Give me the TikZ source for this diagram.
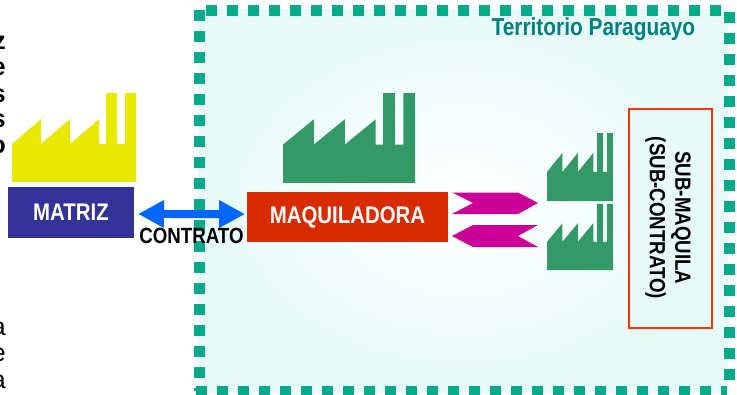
\documentclass[tikz,border=0pt]{standalone}
\usepackage{fontspec}
\setmainfont{Liberation Sans}
\newfontfamily\condfont[FakeStretch=0.85]{Liberation Sans}
\newfontfamily\cortefont{Liberation Sans}
\usetikzlibrary{arrows.meta}
\definecolor{terrfill}{HTML}{E6FAF8}
\definecolor{terrdash}{HTML}{05AA8B}
\definecolor{planta}{HTML}{339966}
\definecolor{amarillo}{HTML}{E8E800}
\definecolor{cintacol}{HTML}{CC0099}
\definecolor{matrizcol}{HTML}{333399}
\definecolor{maquilacol}{HTML}{D92B00}
\definecolor{subcol}{HTML}{FF3300}
\definecolor{contratocol}{HTML}{0066FF}
\tikzset{basic/.style={text=white,font=\condfont\bfseries\fontsize{18pt}{20pt}\selectfont,inner sep=0pt}}
\tikzset{territorio/.style={terrdash,line width=8.25pt,dash pattern=on 8.25pt off 7.5pt}}
\tikzset{cinta/.style={fill=cintacol,draw=none}}
\tikzset{etiqueta/.style={font=\condfont\bfseries\fontsize{16.5pt}{19pt}\selectfont,inner sep=0pt}}
\tikzset{corte/.style={anchor=east,inner sep=0pt,font=\cortefont\fontsize{19pt}{21pt}\selectfont}}
\tikzset{cortebf/.style={corte,font=\cortefont\bfseries\fontsize{19pt}{21pt}\selectfont}}
% factory outline, lower left corner given, then colour and the two scales
\newcommand{\fabrica}[5]{
  \fill[#1,shift={(#2,#3)},x=#4*0.75pt,y=#5*0.75pt] (0,0) -- (0,38) -- (29,63) -- (29,38) -- (58,63) -- (58,38)
    -- (87,63) -- (87,38) -- (94,38) -- (94,89) -- (105,89) -- (105,38) -- (113,38)
    -- (113,89) -- (124,89) -- (124,0) -- cycle;
}
\begin{document}
\begin{tikzpicture}[x=0.75pt,y=-0.75pt]
  \useasboundingbox (0,0) rectangle (737,395);

  % the territory: soft background first, then the dotted border
  \shade[inner color=white,outer color=terrfill] (199,10) rectangle (728,392);
  \draw[territorio] (199.5,10) -- (199.5,391);
  \draw[territorio] (206,10.5) -- (724,10.5);
  \draw[territorio] (729,12) -- (729,386);
  \draw[territorio] (196,391) -- (727,391);
  \node (terr_label) [anchor=east,text=teal,etiqueta,font=\condfont\bfseries\fontsize{18.4pt}{20pt}\selectfont] at (695.5,29) {Territorio Paraguayo};

  % cut off text at the left edge
  \node (z_1) [cortebf] at (6,43) {z};
  \node (e_1) [cortebf] at (6,69) {e};
  \node (s_1) [cortebf] at (6,96) {s};
  \node (s_2) [cortebf] at (6,121) {s};
  \node (o_1) [cortebf] at (6,147) {o};
  \node (a_1) [corte] at (6,329) {a};
  \node (e_2) [corte] at (6,355) {e};
  \node (a_2) [corte] at (6,382) {a};

  % factories
  \fabrica{amarillo}{12}{182}{1}{1}
  \fabrica{planta}{283}{183}{1.065}{1.011}
  \fabrica{planta}{547}{201}{0.532}{0.764}
  \fabrica{planta}{547}{270}{0.532}{0.742}

  % the boxes
  \node (matriz) [basic,fill=matrizcol,minimum width=94.5pt,minimum height=38.25pt] at (71,212.5) {MATRIZ};
  \node (maquila) [basic,fill=maquilacol,minimum width=150.75pt,minimum height=37.5pt] at (347.5,217) {MAQUILADORA};
  \node (sub) [draw=subcol,line width=1.5pt,fill=terrfill,minimum width=62.25pt,minimum height=164.25pt,
     inner sep=0pt] at (670.5,218.5) {};
  \node (sub_label) [etiqueta,rotate=-90,align=center] at (668,218) {SUB-MAQUILA\\(SUB-CONTRATO)};

  % contract arrow and the two bands
  \draw[{Triangle[length=19.5pt,width=19.5pt]}-{Triangle[length=19.5pt,width=19.5pt]},line width=6pt,color=contratocol,
     shorten <=2.8pt,shorten >=1.2pt] ([yshift=-1.1pt]matriz.east) -- ([yshift=2.2pt]maquila.west);
  \node (contrato) [etiqueta] at (191.5,236) {CONTRATO};
  \path[cinta] (452,192.5) -- (518,192.5) -- (538,203) -- (518,214) -- (452,214) -- (473,203) -- cycle;
  \path[cinta] (452,236) -- (473,225) -- (538,225) -- (518,236) -- (538,247) -- (473,247) -- cycle;
\end{tikzpicture}
\end{document}
